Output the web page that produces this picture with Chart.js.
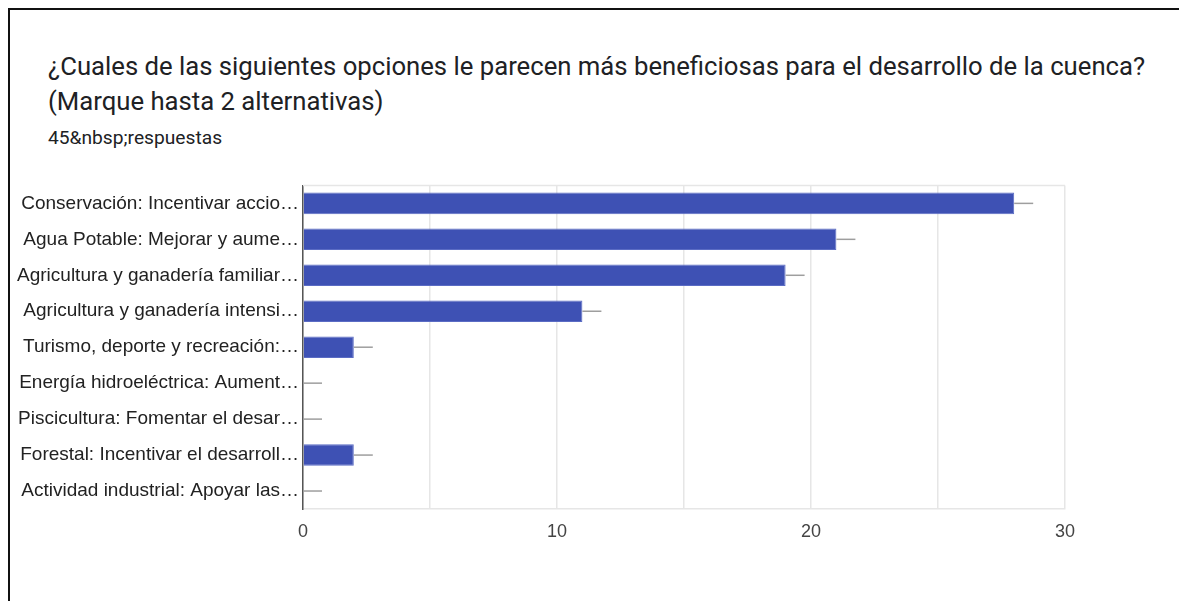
<!DOCTYPE html>
<html>
<head>
<meta charset="utf-8">
<script src="https://cdn.jsdelivr.net/npm/chart.js@4"></script>
<style>
	body { margin: 0; background: #fff; width: 1179px; height: 601px; overflow: hidden; position: relative; }
	#frame { position: absolute; left: 8px; top: 8px; width: 1171px; height: 593px; border-top: 2px solid #111; border-left: 2px solid #111; }
	#title { position: absolute; left: 48px; top: 49px; font-family: Roboto, sans-serif; font-size: 25.7px; line-height: 35px; color: #202124; }
	#sub { position: absolute; left: 48px; top: 126px; font-family: Roboto, sans-serif; font-size: 19.2px; color: #202124; }
	#wrap { position: absolute; left: 10px; top: 170px; width: 1100px; height: 400px; }
</style>
</head>
<body>
<div id="frame"></div>
<div id="title">¿Cuales de las siguientes opciones le parecen más beneficiosas para el desarrollo de la cuenca?<br>(Marque hasta 2 alternativas)</div>
<div id="sub">45&amp;nbsp;respuestas</div>
<div id="wrap"><canvas id="chart"></canvas></div>
<script>
	const categories = [
		"Conservación: Incentivar accio…",
		"Agua Potable: Mejorar y aume…",
		"Agricultura y ganadería familiar…",
		"Agricultura y ganadería intensi…",
		"Turismo, deporte y recreación:…",
		"Energía hidroeléctrica: Aument…",
		"Piscicultura: Fomentar el desar…",
		"Forestal: Incentivar el desarroll…",
		"Actividad industrial: Apoyar las…",
	];
	const counts = [28, 21, 19, 11, 2, 0, 0, 2, 0];
	const xTicks = [0, 10, 20, 30];

	// little grey stub after each bar end, like the forms chart
	const stubPlugin = {
		id: "stubs",
		beforeDatasetsDraw(chart) {
			const ctx = chart.ctx;
			const area = chart.chartArea;
			ctx.save();
			ctx.strokeStyle = "#e6e6e6";
			ctx.lineWidth = 1.5;
			ctx.beginPath();
			ctx.moveTo(area.left, area.top);
			ctx.lineTo(area.right, area.top);
			ctx.stroke();
			ctx.restore();
		},
		afterDatasetsDraw(chart) {
			const ctx = chart.ctx;
			const meta = chart.getDatasetMeta(0);
			ctx.save();
			ctx.strokeStyle = "#9e9e9e";
			ctx.lineWidth = 1.5;
			meta.data.forEach((bar) => {
				ctx.beginPath();
				ctx.moveTo(bar.x, bar.y);
				ctx.lineTo(bar.x + 19, bar.y);
				ctx.stroke();
			});
			ctx.restore();
		},
	};

	new Chart(document.getElementById("chart"), {
		type: "bar",
		data: {
			labels: categories,
			datasets: [
				{
					data: counts,
					backgroundColor: "#3e51b4",
					borderColor: "#5b6cc4",
					borderWidth: 1,
					categoryPercentage: 1,
					barPercentage: 0.6,
				},
			],
		},
		options: {
			indexAxis: "y",
			responsive: true,
			maintainAspectRatio: false,
			animation: false,
			layout: { padding: { top: 10, right: 45, bottom: 0, left: 0 } },
			plugins: { legend: { display: false }, tooltip: { enabled: false } },
			scales: {
				x: {
					min: 0,
					max: 30,
					afterBuildTicks: (scale) => {
						const t = [];
						for (let v = 0; v <= 30; v += 5) t.push({ value: v });
						scale.ticks = t;
					},
					afterFit: (scale) => { scale.height = 61; },
					grid: { color: "#e6e6e6", lineWidth: 1.5, drawTicks: false },
					border: { color: "#e6e6e6", width: 1.5 },
					ticks: {
						padding: 12,
						color: "#444",
						font: { family: "'Liberation Sans', Arial", size: 18 },
						callback: (v) => (xTicks.includes(v) ? v : ""),
					},
				},
				y: {
					afterFit: (scale) => { scale.width = 293; },
					grid: { display: false, drawTicks: false },
					border: { color: "#555", width: 1.5 },
					ticks: {
						padding: 4,
						color: "#222",
						font: { family: "'Liberation Sans', Arial", size: 19 },
					},
				},
			},
		},
		plugins: [stubPlugin],
	});
</script>
</body>
</html>
